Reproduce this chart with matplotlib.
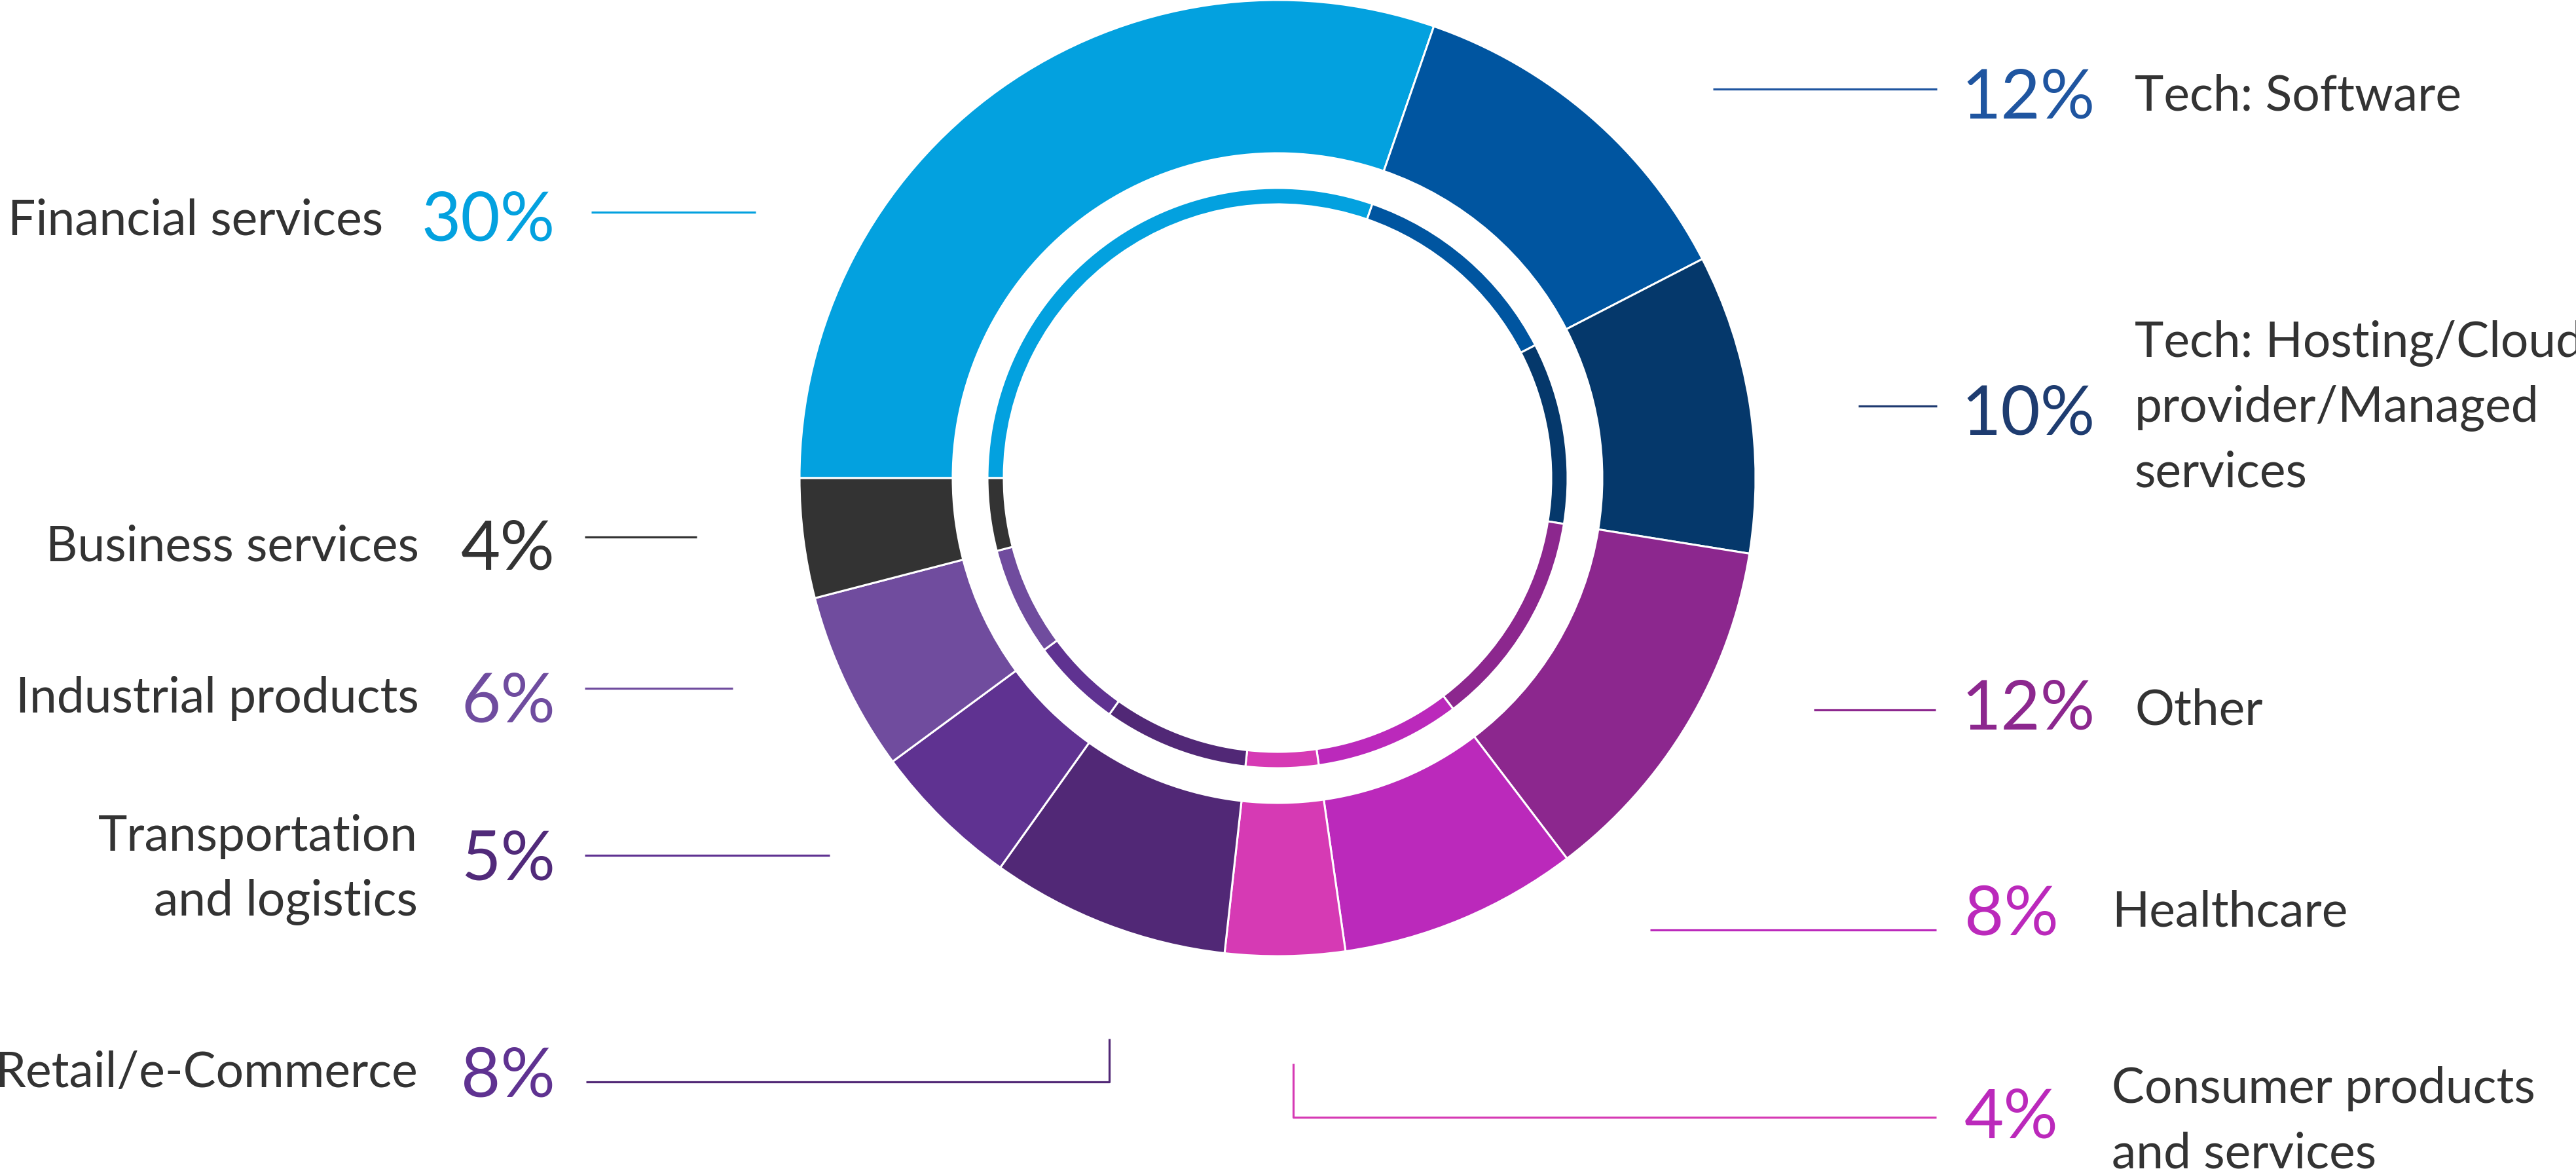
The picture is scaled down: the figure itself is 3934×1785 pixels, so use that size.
import matplotlib
matplotlib.use("Agg")
import matplotlib.pyplot as plt

# sector shares (percent of respondents)
sectors = ["Financial services", "Tech: Software",
           "Tech: Hosting/Cloud\nprovider/Managed\nservices", "Other",
           "Healthcare", "Consumer products\nand services", "Retail/e-Commerce",
           "Transportation\nand logistics", "Industrial products",
           "Business services"]
shares = [30, 12, 10, 12, 8, 4, 8, 5, 6, 4]
pct_labels = [f"{v}%" for v in shares]

slice_colors = ["#03A1DF", "#0055A0", "#05386B", "#8C278E", "#BB29BB",
                "#D63AB4", "#512876", "#5F3291", "#704C9E", "#333333"]
pct_colors = ["#03A1DF", "#1F55A0", "#1E3C70", "#8C278E", "#BB29BB",
              "#BB29BB", "#5F3291", "#512A7A", "#6F4C9F", "#333333"]
line_colors = ["#03A1DF", "#1F55A0", "#1E3A70", "#8C278E", "#BB29BB",
               "#D63AB4", "#512876", "#5F3291", "#704C9E", "#333333"]

W, H = 3934, 1785
plt.rcParams['font.family'] = ['Lato', 'DejaVu Sans']

fig = plt.figure(figsize=(W / 100, H / 100), dpi=100)
ax = fig.add_axes([0, 0, 1, 1])
ax.axis('off')

def Y(py):
    # pixel row (from top) -> data y
    return H - py

cx, cy = 1951, Y(730)
ax.pie(shares, radius=730, center=(cx, cy), startangle=180, counterclock=False,
       colors=slice_colors,
       wedgeprops=dict(width=234, edgecolor='white', linewidth=2.2))
ax.pie(shares, radius=443, center=(cx, cy), startangle=180, counterclock=False,
       colors=slice_colors,
       wedgeprops=dict(width=25, edgecolor='white', linewidth=2.2))
ax.set_xlim(0, W)
ax.set_ylim(0, H)
ax.set_aspect('equal')

# leader lines (pixel coords from top-left)
leaders = [
    [(903, 324), (1154, 324)],
    [(2616, 136), (2958, 136)],
    [(2838, 620), (2958, 620)],
    [(2770, 1084), (2956, 1084)],
    [(2520, 1420), (2957, 1420)],
    [(1975, 1624), (1975, 1706), (2957, 1706)],
    [(1694, 1586), (1694, 1652), (895, 1652)],
    [(893, 1306), (1267, 1306)],
    [(893, 1051), (1119, 1051)],
    [(893, 820), (1064, 820)],
]
for pts, c in zip(leaders, line_colors):
    ax.plot([p[0] for p in pts], [Y(p[1]) for p in pts], color=c, lw=2.3,
            solid_capstyle='butt')

# label layout: (pct x, pct baseline, label x, label baseline, side)
layout = [
    (848, 367, 585, 358, 'L'),
    (2995, 180, 3260, 168, 'R'),
    (2995, 663, 3260, 545, 'R'),
    (2995, 1113, 3260, 1106, 'R'),
    (3000, 1427, 3225, 1414, 'R'),
    (3000, 1737, 3225, 1684, 'R'),
    (848, 1674, 638, 1660, 'L'),
    (848, 1343, 638, 1299, 'L'),
    (848, 1102, 640, 1088, 'L'),
    (848, 869, 640, 856, 'L'),
]
for name, pct, pc, (px, pb, lx, lb, side) in zip(sectors, pct_labels, pct_colors, layout):
    ha = 'right' if side == 'L' else 'left'
    ax.text(px, Y(pb), pct, color=pc, fontsize=75, fontweight='normal',
            ha=ha, va='baseline')
    # multi-line labels: first baseline given, then ~99px steps
    for i, line in enumerate(name.split("\n")):
        ax.text(lx, Y(lb + i * 99), line, color="#333333", fontsize=54,
                ha=ha, va='baseline')

fig.savefig("out.png", dpi=100, facecolor='white')
